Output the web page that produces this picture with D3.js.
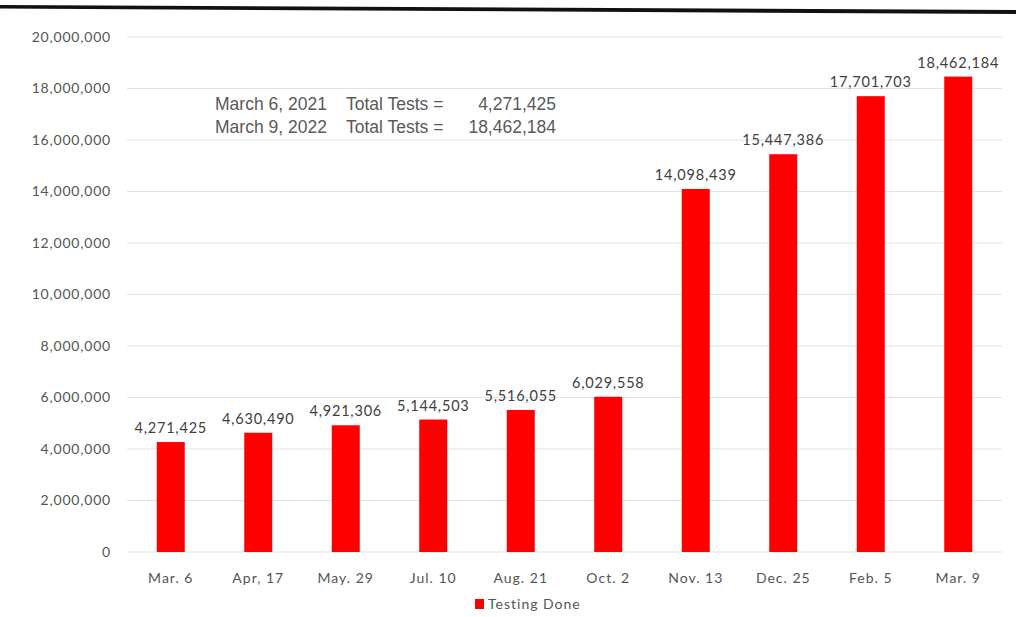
<!DOCTYPE html>
<html><head><meta charset="utf-8">
<script src="https://cdn.jsdelivr.net/npm/d3@7"></script>
<style>body{margin:0;background:#fff;}svg{display:block;}</style>
</head><body>
<svg id="chart" width="1016" height="617"></svg>
<script>
const categories = ["Mar. 6","Apr, 17","May. 29","Jul. 10","Aug. 21","Oct. 2","Nov. 13","Dec. 25","Feb. 5","Mar. 9"];
const values = [4271425,4630490,4921306,5144503,5516055,6029558,14098439,15447386,17701703,18462184];
const yTicks = [0,2000000,4000000,6000000,8000000,10000000,12000000,14000000,16000000,18000000,20000000];
const seriesName = "Testing Done";
const noteDates = ["March 6, 2021","March 9, 2022"];
const noteLabel = "Total Tests =";
const noteValues = ["4,271,425","18,462,184"];

const svg = d3.select("#chart");
const fmt = d3.format(",");
const labelFont = "Lato, 'Open Sans', sans-serif";

// top dark border
svg.append("path").attr("d","M0,5 L1016,10 L1016,14 L0,8.5 Z").attr("fill","#111");

const x = d3.scaleBand().domain(categories).range([127,1002]).paddingInner(0.68).paddingOuter(0.34);
const y = d3.scaleLinear().domain([0,20000000]).range([552,37]);

// gridlines
svg.append("g").selectAll("line").data(yTicks).join("line")
  .attr("x1",127).attr("x2",1002).attr("y1",d=>y(d)).attr("y2",d=>y(d))
  .attr("stroke","#e3e3e3").attr("stroke-width",1.2);

// y axis
const yAxis = svg.append("g").attr("transform","translate(111,0)")
  .call(d3.axisLeft(y).tickValues(yTicks).tickFormat(fmt).tickSize(0).tickPadding(0));
yAxis.select(".domain").remove();
yAxis.selectAll("text").attr("font-family",labelFont).attr("font-size",14)
  .attr("letter-spacing",0.8).attr("fill","#555");

// x axis
const xAxis = svg.append("g").attr("transform","translate(0,552)")
  .call(d3.axisBottom(x).tickSize(0).tickPadding(21));
xAxis.select(".domain").remove();
xAxis.selectAll("text").attr("font-family",labelFont).attr("font-size",14)
  .attr("letter-spacing",1).attr("fill","#555");

// bars
svg.append("g").selectAll("rect").data(values).join("rect")
  .attr("x",(d,i)=>x(categories[i])).attr("width",x.bandwidth())
  .attr("y",d=>y(d)).attr("height",d=>y(0)-y(d)).attr("fill","#ff0000");

// value labels
svg.append("g").selectAll("text").data(values).join("text")
  .attr("x",(d,i)=>x(categories[i])+x.bandwidth()/2).attr("y",d=>y(d)-9)
  .attr("text-anchor","middle").attr("font-family",labelFont).attr("font-size",14.5)
  .attr("letter-spacing",0.8).attr("fill","#404040").text(d=>fmt(d));

// annotation
const note = svg.append("g").attr("font-family","'Liberation Sans', Arial, sans-serif").attr("font-size",17.5).attr("fill","#5a5a5a");
noteDates.forEach((d,i)=>{
  const yy = 110+i*23;
  note.append("text").attr("x",215).attr("y",yy).text(d);
  note.append("text").attr("x",346).attr("y",yy).text(noteLabel);
  note.append("text").attr("x",556).attr("y",yy).attr("text-anchor","end").text(noteValues[i]);
});

// legend
const lg = svg.append("g");
lg.append("rect").attr("x",475).attr("y",599).attr("width",9).attr("height",10).attr("fill","#ff0000");
lg.append("text").attr("x",488).attr("y",609).attr("font-family",labelFont).attr("font-size",14)
  .attr("letter-spacing",1).attr("fill","#555").text(seriesName);
</script>
</body></html>
